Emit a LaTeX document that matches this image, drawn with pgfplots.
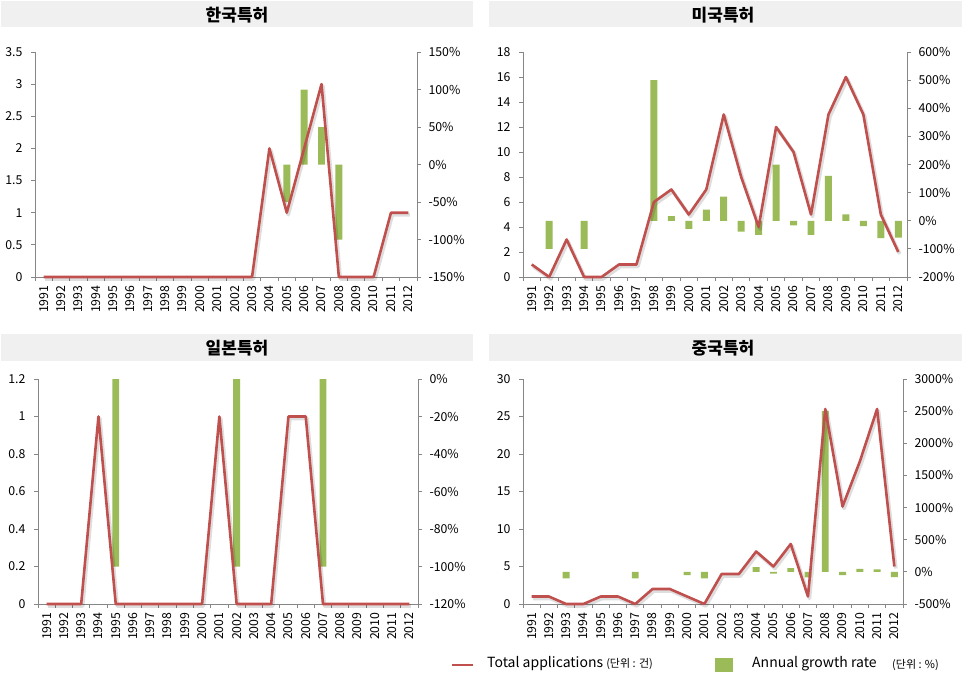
\documentclass[border=0pt]{standalone}
\usepackage{fontspec}
\setmainfont{Noto Sans CJK KR}
\usepackage{pgfplots}
\pgfplotsset{compat=1.18}
\usepackage{pgfplotstable}
\definecolor{xlred}{HTML}{C0504D}
\definecolor{xlgreen}{HTML}{9BBB59}
\definecolor{axgrey}{HTML}{868686}
\definecolor{strip}{HTML}{F0F0F0}

% year, total applications, annual growth rate (%); nan where no bar is drawn
\pgfplotstableread{
year total growth
1991 0 nan
1992 0 nan
1993 0 nan
1994 0 nan
1995 0 nan
1996 0 nan
1997 0 nan
1998 0 nan
1999 0 nan
2000 0 nan
2001 0 nan
2002 0 nan
2003 0 nan
2004 2 nan
2005 1 -50
2006 2 100
2007 3 50
2008 0 -100
2009 0 nan
2010 0 nan
2011 1 nan
2012 1 nan
}\krdata

\pgfplotstableread{
year total growth
1991 1 nan
1992 0 -100
1993 3 nan
1994 0 -100
1995 0 nan
1996 1 nan
1997 1 nan
1998 6 500
1999 7 16.7
2000 5 -28.6
2001 7 40
2002 13 85.7
2003 8 -38.5
2004 4 -50
2005 12 200
2006 10 -16.7
2007 5 -50
2008 13 160
2009 16 23.1
2010 13 -18.8
2011 5 -61.5
2012 2 -60
}\usdata

\pgfplotstableread{
year total growth
1991 0 nan
1992 0 nan
1993 0 nan
1994 1 nan
1995 0 -100
1996 0 nan
1997 0 nan
1998 0 nan
1999 0 nan
2000 0 nan
2001 1 nan
2002 0 -100
2003 0 nan
2004 0 nan
2005 1 nan
2006 1 nan
2007 0 -100
2008 0 nan
2009 0 nan
2010 0 nan
2011 0 nan
2012 0 nan
}\jpdata

\pgfplotstableread{
year total growth
1991 1 nan
1992 1 nan
1993 0 -100
1994 0 nan
1995 1 nan
1996 1 nan
1997 0 -100
1998 2 nan
1999 2 nan
2000 1 -50
2001 0 -100
2002 4 nan
2003 4 nan
2004 7 75
2005 5 -28.6
2006 8 60
2007 1 -87.5
2008 26 2500
2009 13 -50
2010 19 46.2
2011 26 36.8
2012 5 -80.8
}\cndata

\pgfplotsset{
  base/.style={
    scale only axis, height=225pt,
    xmin=1990.5, xmax=2012.5,
    clip=false,
    font=\fontsize{12.3}{14}\selectfont,
    axis line style={axgrey, line width=0.8pt},
    tick style={axgrey, line width=0.8pt},
    tick align=outside, major tick length=4pt,
    xtick={1990.5,1991.5,...,2012.5}, xticklabels={},
  },
  lineaxis/.style={base,
    axis x line*=bottom, axis y line*=left,
    y tick label style={xshift=-5pt},
    extra x ticks={1991,1992,...,2012},
    extra x tick labels={1991,1992,1993,1994,1995,1996,1997,1998,1999,2000,2001,2002,2003,2004,2005,2006,2007,2008,2009,2010,2011,2012},
    extra x tick style={major tick length=0pt,
      tick label style={rotate=90, anchor=east, xshift=-5pt}},
  },
  baraxis/.style={base, axis x line=none, axis y line*=right,
    y tick label style={xshift=4pt}},
  shadowline/.style={black, opacity=0.13, line width=3.6pt, line join=round,
    xshift=1.5pt, yshift=-2pt},
  redline/.style={xlred, line width=2.6pt, line join=round},
  greenbar/.style={ybar, bar width=0.4, fill=xlgreen, draw=none},
}

\begin{document}
\begin{tikzpicture}
\useasboundingbox (0,0) rectangle (962pt,-680pt);

% title strips
\fill[strip] (1pt,-1pt) rectangle (473pt,-27pt);
\fill[strip] (489pt,-1pt) rectangle (962pt,-27pt);
\fill[strip] (1pt,-334pt) rectangle (473pt,-361pt);
\fill[strip] (489pt,-334pt) rectangle (962pt,-361pt);
\node[font=\fontsize{17}{19}\selectfont\bfseries] at (237pt,-15pt) {한국특허};
\node[font=\fontsize{17}{19}\selectfont\bfseries] at (723pt,-15pt) {미국특허};
\node[font=\fontsize{17}{19}\selectfont\bfseries] at (237pt,-348pt) {일본특허};
\node[font=\fontsize{17}{19}\selectfont\bfseries] at (723pt,-348pt) {중국특허};

% ---- Korea
\begin{axis}[baraxis, at={(35pt,-52pt)}, anchor=north west, width=382pt,
  ymin=-150, ymax=150, ytick={-150,-100,...,150},
  yticklabels={-150\%,-100\%,-50\%,0\%,50\%,100\%,150\%}]
\addplot[greenbar] table[x=year,y=growth]{\krdata};
\end{axis}
\begin{axis}[lineaxis, at={(35pt,-52pt)}, anchor=north west, width=382pt,
  ymin=0, ymax=3.5, ytick={0,0.5,1,1.5,2,2.5,3,3.5},
  yticklabels={0,0.5,1,1.5,2,2.5,3,3.5}]
\addplot[shadowline] table[x=year,y=total]{\krdata};
\addplot[redline] table[x=year,y=total]{\krdata};
\end{axis}

% ---- USA
\begin{axis}[baraxis, at={(523pt,-52pt)}, anchor=north west, width=384pt,
  ymin=-200, ymax=600, ytick={-200,-100,...,600},
  yticklabels={-200\%,-100\%,0\%,100\%,200\%,300\%,400\%,500\%,600\%}]
\addplot[greenbar] table[x=year,y=growth]{\usdata};
\end{axis}
\begin{axis}[lineaxis, at={(523pt,-52pt)}, anchor=north west, width=384pt,
  ymin=0, ymax=18, ytick={0,2,...,18},
  yticklabels={0,2,4,6,8,10,12,14,16,18}]
\addplot[shadowline] table[x=year,y=total]{\usdata};
\addplot[redline] table[x=year,y=total]{\usdata};
\end{axis}

% ---- Japan
\begin{axis}[baraxis, at={(38pt,-379pt)}, anchor=north west, width=380pt,
  ymin=-120, ymax=0, ytick={-120,-100,...,0},
  yticklabels={-120\%,-100\%,-80\%,-60\%,-40\%,-20\%,0\%}]
\addplot[greenbar] table[x=year,y=growth]{\jpdata};
\end{axis}
\begin{axis}[lineaxis, at={(38pt,-379pt)}, anchor=north west, width=380pt,
  ymin=0, ymax=1.2, ytick={0,0.2,0.4,0.6,0.8,1,1.2},
  yticklabels={0,0.2,0.4,0.6,0.8,1,1.2}]
\addplot[shadowline] table[x=year,y=total]{\jpdata};
\addplot[redline] table[x=year,y=total]{\jpdata};
\end{axis}

% ---- China
\begin{axis}[baraxis, at={(523pt,-379pt)}, anchor=north west, width=380pt,
  ymin=-500, ymax=3000, ytick={-500,0,...,3000},
  yticklabels={-500\%,0\%,500\%,1000\%,1500\%,2000\%,2500\%,3000\%}]
\addplot[greenbar] table[x=year,y=growth]{\cndata};
\end{axis}
\begin{axis}[lineaxis, at={(523pt,-379pt)}, anchor=north west, width=380pt,
  ymin=0, ymax=30, ytick={0,5,...,30},
  yticklabels={0,5,10,15,20,25,30}]
\addplot[shadowline] table[x=year,y=total]{\cndata};
\addplot[redline] table[x=year,y=total]{\cndata};
\end{axis}

% legend
\draw[xlred, line width=2.6pt] (452pt,-665pt) -- (473pt,-665pt);
\node[anchor=west, inner sep=0pt, font=\fontsize{14}{16}\selectfont]
  at (487pt,-664pt) {Total applications {\fontsize{11}{13}\selectfont(단위 : 건)}};
\fill[xlgreen] (715pt,-658pt) rectangle (733pt,-672pt);
\node[anchor=west, inner sep=0pt, font=\fontsize{14}{16}\selectfont]
  at (752pt,-664pt) {Annual growth rate};
\node[anchor=west, inner sep=0pt, font=\fontsize{11}{13}\selectfont]
  at (892pt,-665pt) {(단위 : \%)};
\end{tikzpicture}
\end{document}
